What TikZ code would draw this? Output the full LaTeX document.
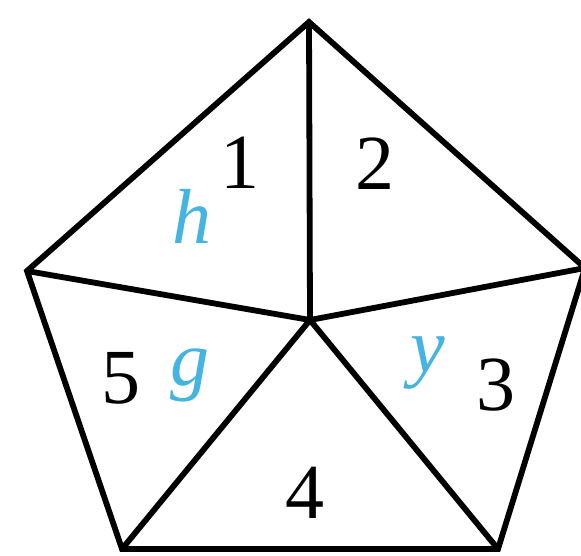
\documentclass[tikz,border=0pt]{standalone}
\usepackage{fontspec}
\setmainfont{Liberation Serif}
\usepackage{xcolor}
\usetikzlibrary{positioning,calc}
\definecolor{letterblue}{HTML}{45B4E0}
\tikzset{
  edge/.style={draw=black, line width=2.9pt, line join=miter},
  numlabel/.style={font=\fontsize{39}{42}\selectfont, anchor=base, inner sep=0pt},
  letlabel/.style={font=\fontsize{39}{42}\selectfont\itshape, text=letterblue, anchor=base, inner sep=0pt},
}
\begin{document}
\begin{tikzpicture}[x=0.5pt, y=-0.5pt]
  \useasboundingbox (0,0) rectangle (581,555);
  % pentagon corners and centre
  \coordinate (top) at (309,22);
  \coordinate (lft) at (27,271);
  \coordinate (rgt) at (585,268);
  \coordinate (bl)  at (122,549);
  \coordinate (br)  at (498,549);
  \coordinate (ctr) at (310,320);

  \draw[edge] (top) -- (lft) -- (bl) -- (br) -- (rgt) -- cycle;
  \draw[edge] (ctr) -- (top);
  \draw[edge] (ctr) -- (lft);
  \draw[edge] (ctr) -- (rgt);
  \draw[edge] (ctr) -- (bl);
  \draw[edge] (ctr) -- (br);

  % region numbers
  \node[numlabel] (n1) at (240,189) {1};
  \node[numlabel] (n2) at (375,190) {2};
  \node[numlabel] (n3) at (496,410) {3};
  \node[numlabel] (n4) at (305,518) {4};
  \node[numlabel] (n5) at (121,403) {5};

  % letters
  \node[letlabel] (lh) at (192,243) {h};
  \node[letlabel] (lg) at (190,385) {g};
  \node[letlabel] (ly) at (428,372) {y};
\end{tikzpicture}
\end{document}
